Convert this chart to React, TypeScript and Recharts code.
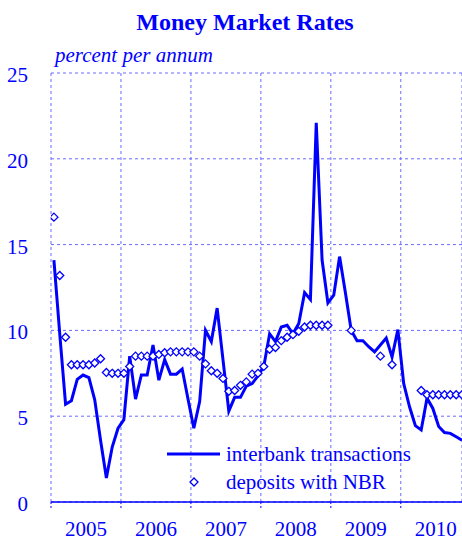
import { ComposedChart, Line, XAxis, YAxis, CartesianGrid, Legend } from 'recharts'

// monthly observations, Jan 2005 .. Nov 2010
const years = ['2005', '2006', '2007', '2008', '2009', '2010']

const interbank = [
  14.1, 9.8, 5.7, 5.9, 7.15, 7.4, 7.25, 5.95, 3.6, 1.4, 3.2, 4.3,
  4.8, 8.5, 6.0, 7.4, 7.4, 9.15, 7.1, 8.3, 7.45, 7.45, 7.75, 6.0,
  4.3, 5.85, 10.0, 9.35, 11.3, 8.3, 5.3, 6.1, 6.1, 6.75, 6.9, 7.35,
  7.9, 9.8, 9.35, 10.2, 10.3, 9.8, 10.4, 12.2, 11.8, 22.1, 14.1, 11.6,
  12.05, 14.3, 12.2, 10.0, 9.4, 9.4, 9.05, 8.75, 9.15, 9.55, 8.45, 10.05,
  6.9, 5.55, 4.45, 4.2, 6.05, 5.45, 4.4, 4.05, 4.0, 3.8, 3.6,
]

const deposits: (number | null)[] = [
  16.6, 13.2, 9.6, 8.0, 8.0, 8.0, 8.0, 8.1, 8.35, 7.55, 7.5, 7.5,
  7.5, 7.9, 8.5, 8.5, 8.5, 8.5, 8.6, 8.7, 8.75, 8.75, 8.75, 8.75,
  8.75, 8.5, 8.05, 7.65, 7.5, 7.2, 6.45, 6.5, 6.8, 7.0, 7.45, 7.5,
  7.9, 8.9, 9.0, 9.4, 9.6, 9.75, 9.95, 10.2, 10.3, 10.3, 10.3, 10.3,
  null, null, null, 10.0, null, null, null, null, 8.5, null, 8.0, null,
  null, null, null, 6.5, 6.25, 6.25, 6.25, 6.25, 6.25, 6.25, 6.25,
]

const yTicks = [0, 5, 10, 15, 20, 25]

const BLUE = '#0000ff'
const GRID = '#6a6aff'
const FONT = '"Liberation Serif", "Times New Roman", serif'

const data = interbank.map((v, i) => ({ m: i + 0.5, interbank: v, deposits: deposits[i] }))
const yearStarts = years.map((_, k) => k * 12)
const yearMids = years.map((_, k) => k * 12 + 6)

function Diamond({ cx, cy, r = 4, fill = '#fff' }: { cx: number; cy: number; r?: number; fill?: string }) {
  return (
    <path
      d={`M${cx},${cy - r}L${cx + r},${cy}L${cx},${cy + r}L${cx - r},${cy}Z`}
      fill={fill}
      stroke={BLUE}
      strokeWidth={1.3}
    />
  )
}

function depositDot(props: any) {
  const { cx, cy, value, index } = props
  if (value == null || cy == null) return <g key={`d${index}`} />
  return <Diamond key={`d${index}`} cx={cx} cy={cy} />
}

function LegendBox() {
  const row = { display: 'flex', alignItems: 'center', height: 28 }
  return (
    <div style={{ fontFamily: FONT, fontSize: 21, color: BLUE }}>
      <div style={row}>
        <svg width={59} height={10}>
          <line x1={0} y1={5} x2={53} y2={5} stroke={BLUE} strokeWidth={3} />
        </svg>
        <span>interbank transactions</span>
      </div>
      <div style={row}>
        <svg width={59} height={12}>
          <Diamond cx={27} cy={6} r={4} />
        </svg>
        <span>deposits with NBR</span>
      </div>
    </div>
  )
}

export default function App() {
  return (
    <div style={{ position: 'absolute', left: 0, top: 0, width: 462, height: 540, background: '#fff' }}>
      <div
        style={{
          position: 'absolute', left: 0, top: 8, width: 490, textAlign: 'center',
          fontFamily: FONT, fontWeight: 'bold', fontSize: 24, lineHeight: '28px', color: BLUE,
        }}
      >
        Money Market Rates
      </div>
      <div
        style={{
          position: 'absolute', left: 55, top: 42, fontFamily: FONT, fontStyle: 'italic',
          fontSize: 21, lineHeight: '26px', color: BLUE,
        }}
      >
        percent per annum
      </div>
      <ComposedChart
        width={462}
        height={540}
        data={data}
        margin={{ top: 73, right: 0, bottom: 0, left: 0 }}
        style={{ position: 'absolute', left: 0, top: 0 }}
      >
        <CartesianGrid stroke={GRID} strokeDasharray="3 3" />
        <XAxis
          dataKey="m"
          type="number"
          domain={[0, 70.5]}
          ticks={yearStarts}
          height={8}
          tickSize={6}
          tickFormatter={() => ''}
          axisLine={{ stroke: BLUE, strokeWidth: 1.5 }}
          tickLine={{ stroke: BLUE, strokeDasharray: '2 2' }}
          allowDataOverflow
        />
        <XAxis
          xAxisId="years"
          dataKey="m"
          type="number"
          domain={[0, 70.5]}
          ticks={yearMids}
          height={30}
          axisLine={false}
          tickLine={false}
          tick={(p: any) => (
            <text
              x={p.x}
              y={p.y + 11}
              textAnchor="middle"
              dominantBaseline="central"
              fill={BLUE}
              fontSize={21}
              fontFamily={FONT}
            >
              {years[(p.payload.value - 6) / 12]}
            </text>
          )}
        />
        <YAxis
          type="number"
          domain={[0, 25]}
          ticks={yTicks}
          width={51}
          axisLine={false}
          tickLine={false}
          tick={(p: any) => (
            <text x={28} y={p.y + 2} textAnchor="end" dominantBaseline="central" fill={BLUE} fontSize={21} fontFamily={FONT}>
              {p.payload.value}
            </text>
          )}
        />
        <Line
          dataKey="interbank"
          stroke={BLUE}
          strokeWidth={3}
          dot={false}
          activeDot={false}
          isAnimationActive={false}
        />
        <Line
          dataKey="deposits"
          stroke="none"
          dot={depositDot}
          activeDot={false}
          isAnimationActive={false}
        />
        <Legend
          layout="horizontal"
          verticalAlign="middle"
          align="center"
          content={() => <LegendBox />}
          wrapperStyle={{ left: 167, top: 440, width: 295 }}
        />
      </ComposedChart>
    </div>
  )
}
